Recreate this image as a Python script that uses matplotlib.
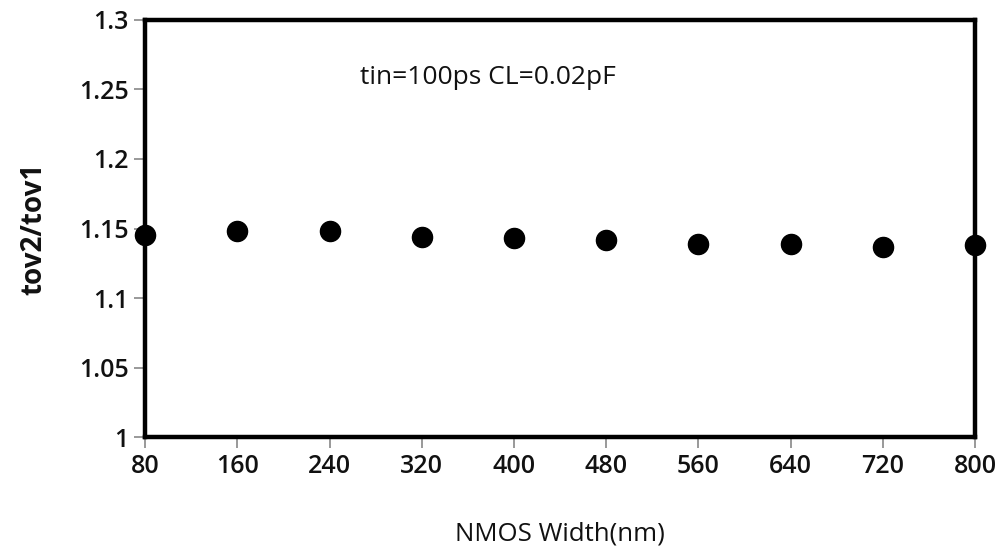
import numpy as np
import matplotlib
matplotlib.use("Agg")
import matplotlib.pyplot as plt

width_nm = [80, 160, 240, 320, 400, 480, 560, 640, 720, 800]
ratio = [1.145, 1.148, 1.148, 1.144, 1.143, 1.142, 1.139, 1.139, 1.137, 1.138]
yticks = [1, 1.05, 1.1, 1.15, 1.2, 1.25, 1.3]
ytick_labels = ["1", "1.05", "1.1", "1.15", "1.2", "1.25", "1.3"]

plt.rcParams["font.family"] = ["Open Sans", "DejaVu Sans"]

fig = plt.figure(figsize=(10.01, 5.54), dpi=100)
ax = fig.add_axes([0.145, 0.211, 0.829, 0.753])

ax.scatter(width_nm, ratio, s=210, color="black", zorder=3, clip_on=False)

ax.set_xlim(80, 800)
ax.set_ylim(1, 1.3)
ax.set_xticks(width_nm)
ax.set_xticklabels([str(v) for v in width_nm])
ax.set_yticks(yticks)
ax.set_yticklabels(ytick_labels)
ax.tick_params(axis="both", direction="out", length=8, width=1.2, color="#888888",
               labelsize=18, pad=4)
for lab in ax.get_xticklabels() + ax.get_yticklabels():
    lab.set_fontweight("semibold")
    lab.set_color("#111111")
ax.tick_params(axis="x", pad=4)

for s in ax.spines.values():
    s.set_linewidth(3.2)
    s.set_color("black")

ax.set_xlabel("NMOS Width(nm)", fontsize=18.5, labelpad=31, color="#111111")
ax.set_ylabel("tov2/tov1", fontsize=20, fontweight="bold", labelpad=22, color="#111111")
ax.text(0.259, 0.863, "tin=100ps CL=0.02pF", transform=ax.transAxes, fontsize=19,
        ha="left", va="center", color="#111111")

fig.savefig("out.png", dpi=100)
